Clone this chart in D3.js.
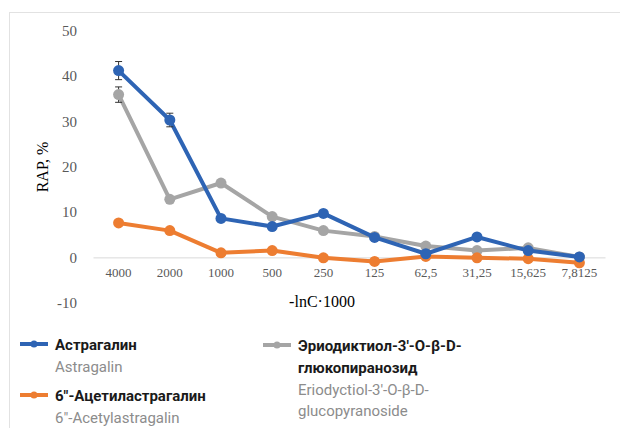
<!DOCTYPE html>
<html lang="ru">
<head>
<meta charset="UTF-8">
<title>RAP</title>
<script src="https://cdn.jsdelivr.net/npm/d3@7"></script>
<style>
  body { margin:0; background:#fff; }
  .axis text { font-family:'Liberation Serif', serif; fill:#595959; }
  .leg-ru { font-family:Roboto, sans-serif; font-weight:700; font-size:15px; fill:#1a1a1a; }
  .leg-en { font-family:Roboto, sans-serif; font-weight:400; font-size:15px; fill:#8c8c8c; }
</style>
</head>
<body>
<div id="grafico"></div>
<script>
var categories = ["4000","2000","1000","500","250","125","62,5","31,25","15,625","7,8125"];
var astragalin = [41.2, 30.3, 8.6, 6.8, 9.7, 4.4, 0.8, 4.5, 1.5, 0.1];
var acetyl = [7.6, 5.9, 1.0, 1.5, -0.1, -0.9, 0.2, -0.1, -0.3, -1.2];
var eriod = [35.9, 12.8, 16.4, 9.0, 5.9, 4.6, 2.5, 1.5, 2.1, 0.1];
var errAstragalin = [2.0, 1.5, 0.3, 0.3, 0.3, 0.3, 0.2, 0.3, 0.2, 0.1];
var errAcetyl = [0.3, 0.3, 0.2, 0.2, 0.1, 0.1, 0.1, 0.1, 0.1, 0.1];
var errEriod = [1.7, 0.4, 0.6, 0.3, 0.3, 0.3, 0.2, 0.2, 0.2, 0.1];
var yTicks = [-10, 0, 10, 20, 30, 40, 50];

var w = 620, h = 428;
var svg = d3.select("#grafico").append("svg").attr("width", w).attr("height", h);

// рамка
svg.append("rect").attr("x", 9.5).attr("y", 12.5).attr("width", 620).attr("height", 430)
  .attr("fill", "none").attr("stroke", "#e2e2e2");

var xScale = d3.scaleBand().domain(categories).range([93, 605]);
var yScale = d3.scaleLinear().domain([-10, 50]).range([302.7, 30.7]);
var cx = function(c){ return xScale(c) + xScale.bandwidth()/2; };

// ось Y (только подписи)
var yAxis = d3.axisLeft(yScale).tickValues(yTicks).tickSize(0).tickPadding(0)
  .tickFormat(function(d){ return String(d); });
svg.append("g").attr("class", "axis").attr("transform", "translate(77,0)")
  .call(yAxis)
  .call(function(g){ g.select(".domain").remove(); })
  .selectAll("text").style("font-size", "15px");

// ось X по нулю
var xAxis = d3.axisBottom(xScale).tickSize(0).tickPadding(10);
svg.append("g").attr("class", "axis").attr("transform", "translate(0," + yScale(0) + ")")
  .call(xAxis)
  .call(function(g){ g.select(".domain").attr("stroke", "#d9d9d9").attr("stroke-width", 1); })
  .selectAll("text").style("font-size", "13px");

// подписи осей
svg.append("text").attr("transform", "translate(48,167) rotate(-90)")
  .attr("text-anchor", "middle").style("font-family", "'Liberation Serif', serif")
  .style("font-size", "16px").attr("fill", "#000").text("RAP, %");
svg.append("text").attr("x", 322).attr("y", 307).attr("text-anchor", "middle")
  .style("font-family", "'Liberation Serif', serif").style("font-size", "16px")
  .attr("fill", "#000").text("-lnC·1000");

var series = [
  {vals: eriod, err: errEriod, color: "#a5a5a5"},
  {vals: acetyl, err: errAcetyl, color: "#ed7d31"},
  {vals: astragalin, err: errAstragalin, color: "#2e64b4"}
];

var line = d3.line().x(function(d){ return cx(d.c); }).y(function(d){ return yScale(d.v); });

series.forEach(function(s){
  var pts = categories.map(function(c, i){ return {c: c, v: s.vals[i], e: s.err[i]}; });
  var g = svg.append("g");
  g.append("path").datum(pts).attr("d", line).attr("fill", "none")
    .attr("stroke", s.color).attr("stroke-width", 4).attr("stroke-linejoin", "round");
  // планки погрешностей
  var eb = g.selectAll(".eb").data(pts).enter().append("g").attr("stroke", "#333").attr("stroke-width", 1);
  eb.append("line").attr("x1", function(d){ return cx(d.c); }).attr("x2", function(d){ return cx(d.c); })
    .attr("y1", function(d){ return yScale(d.v + d.e); }).attr("y2", function(d){ return yScale(d.v - d.e); });
  eb.append("line").attr("x1", function(d){ return cx(d.c) - 3.5; }).attr("x2", function(d){ return cx(d.c) + 3.5; })
    .attr("y1", function(d){ return yScale(d.v + d.e); }).attr("y2", function(d){ return yScale(d.v + d.e); });
  eb.append("line").attr("x1", function(d){ return cx(d.c) - 3.5; }).attr("x2", function(d){ return cx(d.c) + 3.5; })
    .attr("y1", function(d){ return yScale(d.v - d.e); }).attr("y2", function(d){ return yScale(d.v - d.e); });
  g.selectAll("circle").data(pts).enter().append("circle")
    .attr("cx", function(d){ return cx(d.c); }).attr("cy", function(d){ return yScale(d.v); })
    .attr("r", 5.5).attr("fill", s.color);
});

// легенда
var legend = [
  {x: 20, y: 344, color: "#2e64b4", ru: ["Астрагалин"], en: ["Astragalin"]},
  {x: 20, y: 395, color: "#ed7d31", ru: ["6″-Ацетиластрагалин"], en: ["6″-Acetylastragalin"]},
  {x: 263, y: 345, color: "#a5a5a5", ru: ["Эриодиктиол-3′-О-β-D-", "глюкопиранозид"], en: ["Eriodyctiol-3′-O-β-D-", "glucopyranoside"]}
];
legend.forEach(function(l){
  var g = svg.append("g");
  g.append("line").attr("x1", l.x).attr("x2", l.x + 28).attr("y1", l.y).attr("y2", l.y)
    .attr("stroke", l.color).attr("stroke-width", 4);
  g.append("circle").attr("cx", l.x + 14).attr("cy", l.y).attr("r", 3.5).attr("fill", l.color);
  var ty = l.y + 5.5;
  l.ru.forEach(function(t){
    g.append("text").attr("class", "leg-ru").attr("x", l.x + 35).attr("y", ty).text(t);
    ty += 22;
  });
  l.en.forEach(function(t){
    g.append("text").attr("class", "leg-en").attr("x", l.x + 35).attr("y", ty).text(t);
    ty += 21;
  });
});
</script>
</body>
</html>
